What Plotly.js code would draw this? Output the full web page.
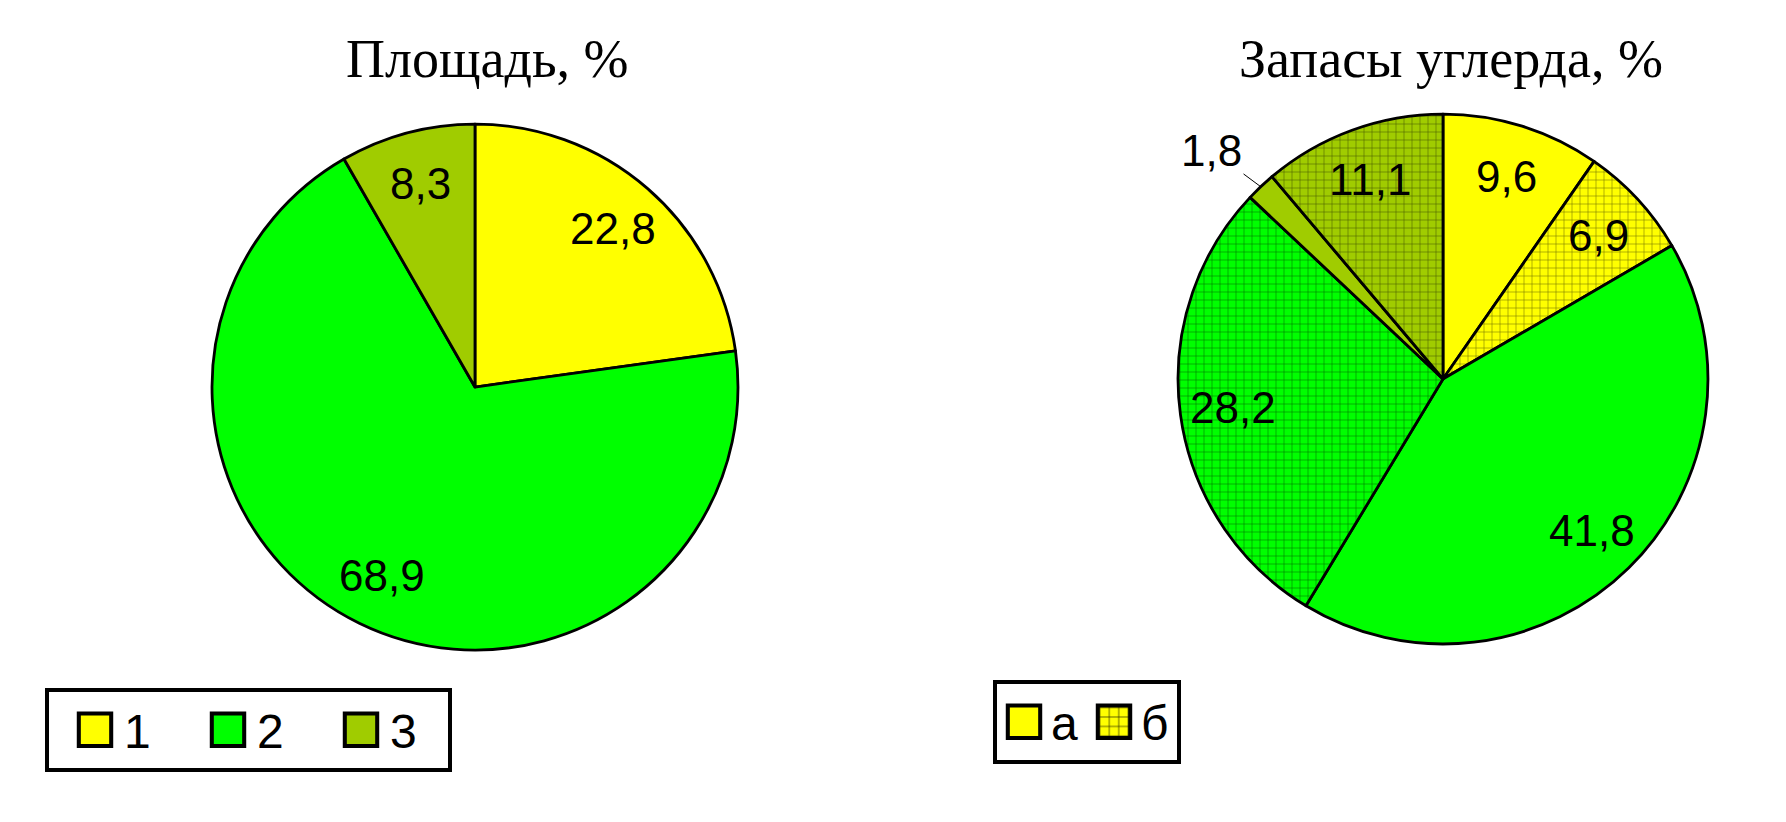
<!DOCTYPE html>
<html>
<head>
<meta charset="utf-8">
<script src="https://cdn.plot.ly/plotly-3.0.1.min.js"></script>
<style>body { margin: 0; background: #fff; }</style>
</head>
<body>
<div id="myDiv" style="width:1786px;height:822px"></div>
<script>
var W = 1786, H = 822;

// left pie: area shares
var areaLabels = ['1', '2', '3'];
var areaValues = [22.8, 68.9, 8.3];
var areaColors = ['#FFFF00', '#00FF00', '#A0CC00'];

// right pie: carbon stock shares (а - plain, б - hatched)
var carbonLabels = ['1а', '1б', '2а', '2б', '3а', '3б'];
var carbonValues = [9.6, 6.9, 41.8, 28.2, 1.8, 11.1];
var carbonColors = ['#FFFF00', '#FFFF00', '#00FF00', '#00FF00', '#A0CC00', '#A0CC00'];
var carbonShapes = ['', '+', '', '+', '', '+'];

var keyLabels = ['а', 'б'];
var keyColors = ['#FFFF00', '#FFFF00'];
var keyShapes = ['', '+'];

var leftDomain = {x: [0.1187, 0.4132], y: [0.2092, 0.8491]};
var rightDomain = {x: [0.6596, 0.9563], y: [0.2165, 0.8613]};

var sans = 'Liberation Sans, Arial, sans-serif';
var serif = 'Liberation Serif, Times New Roman, serif';

// value labels placed like Excel does: horizontal, ~0.8 of radius
function sliceNotes(values, dom) {
  var cx = (dom.x[0] + dom.x[1]) / 2 * W;
  var cy = (dom.y[0] + dom.y[1]) / 2 * H;
  var r = Math.min((dom.x[1] - dom.x[0]) * W, (dom.y[1] - dom.y[0]) * H) / 2;
  var total = values.reduce(function(a, b) { return a + b; }, 0);
  var cum = 0;
  return values.map(function(v) {
    var a = 2 * Math.PI * (cum + v / 2) / total;
    cum += v;
    var sx = Math.sin(a), sy = Math.cos(a);
    var note = {
      xref: 'paper', yref: 'paper',
      xanchor: 'center', yanchor: 'middle',
      text: String(v).replace('.', ','),
      font: {family: sans, size: 44, color: '#000'}
    };
    if (v / total < 0.03) {
      // small slice: label outside with a leader line
      note.x = (cx + r * sx) / W;
      note.y = (cy + r * sy) / H;
      note.showarrow = true;
      note.arrowhead = 0;
      note.arrowwidth = 1;
      note.arrowcolor = '#000';
      note.standoff = 0;
      note.ax = 0.27 * r * sx;
      note.ay = -0.19 * r * sy;
    } else {
      note.x = (cx + 0.8 * r * sx) / W;
      note.y = (cy + 0.8 * r * sy) / H;
      note.showarrow = false;
    }
    return note;
  });
}

var area = {
  type: 'pie',
  labels: areaLabels,
  values: areaValues,
  sort: false,
  direction: 'clockwise',
  rotation: 0,
  textinfo: 'none',
  hoverinfo: 'none',
  domain: leftDomain,
  marker: {
    colors: areaColors,
    line: {color: '#000', width: 2.8}
  },
  legend: 'legend'
};

var carbon = {
  type: 'pie',
  labels: carbonLabels,
  values: carbonValues,
  sort: false,
  direction: 'clockwise',
  rotation: 0,
  textinfo: 'none',
  hoverinfo: 'none',
  showlegend: false,
  domain: rightDomain,
  marker: {
    colors: carbonColors,
    line: {color: '#000', width: 2.8},
    pattern: {shape: carbonShapes, bgcolor: carbonColors, fgcolor: '#000',
              fgopacity: 0.6, size: 8, solidity: 0.12}
  }
};

// key for the right pie (tiny pie hidden under its legend box)
var carbonKey = {
  type: 'pie',
  labels: keyLabels,
  values: [1, 1],
  sort: false,
  textinfo: 'none',
  hoverinfo: 'none',
  domain: {x: [0.60, 0.6005], y: [0.10, 0.101]},
  marker: {
    colors: keyColors,
    line: {color: '#000', width: 2},
    pattern: {shape: keyShapes, bgcolor: keyColors, fgcolor: '#000',
              fgopacity: 0.8, size: 3.5, solidity: 0.15}
  },
  legend: 'legend2'
};

var data = [area, carbon, carbonKey];

var titles = [
  {x: 487 / W, y: 0.928, xref: 'paper', yref: 'paper', xanchor: 'center', yanchor: 'middle',
   showarrow: false, text: 'Площадь, %', font: {family: serif, size: 54, color: '#000'}},
  {x: 1451 / W, y: 0.928, xref: 'paper', yref: 'paper', xanchor: 'center', yanchor: 'middle',
   showarrow: false, text: 'Запасы углерда, %', font: {family: serif, size: 54, color: '#000'}}
];

var layout = {
  width: W,
  height: H,
  margin: {l: 0, r: 0, t: 0, b: 0},
  paper_bgcolor: '#fff',
  showlegend: true,
  annotations: titles.concat(sliceNotes(areaValues, leftDomain), sliceNotes(carbonValues, rightDomain)),
  legend: {
    x: 45 / W, y: 1 - 688 / H, xanchor: 'left', yanchor: 'top',
    orientation: 'h',
    bgcolor: '#fff', bordercolor: '#000', borderwidth: 4,
    font: {family: sans, size: 48, color: '#000'},
    itemwidth: 48,
    entrywidth: 70
  },
  legend2: {
    x: 993 / W, y: 1 - 680 / H, xanchor: 'left', yanchor: 'top',
    orientation: 'h',
    bgcolor: '#fff', bordercolor: '#000', borderwidth: 4,
    font: {family: sans, size: 48, color: '#000'},
    itemwidth: 44,
    entrywidth: 31
  }
};

Plotly.newPlot('myDiv', data, layout, {staticPlot: true}).then(function(gd) {
  // Excel-sized legend swatches
  gd.querySelectorAll('.legendpoints path').forEach(function(p) {
    p.setAttribute('transform', (p.getAttribute('transform') || '') + ' scale(2.7)');
    p.style.strokeWidth = '1.5px';
  });
  // left key has a wider inner margin
  var g = gd.querySelector('.legend .groups');
  if (g) g.setAttribute('transform', 'translate(17,0)');
});
</script>
</body>
</html>
